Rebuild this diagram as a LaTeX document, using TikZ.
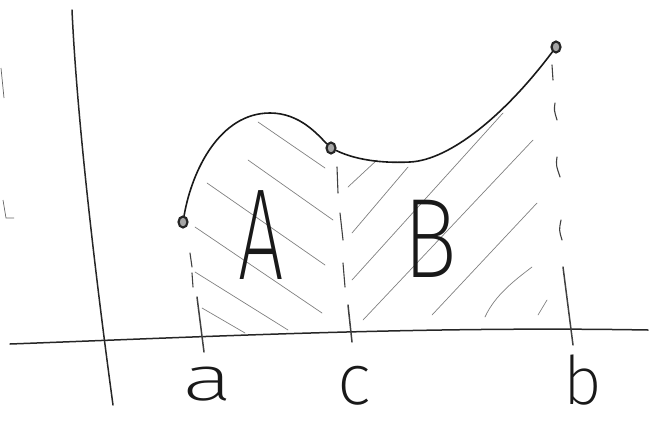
\documentclass[tikz,border=0pt]{standalone}
\usepackage{graphicx}
\usepackage{fontspec}
\usetikzlibrary{shapes.geometric}
\IfFontExistsTF{Fira Sans ExtraLight}{\newfontfamily\hand{Fira Sans ExtraLight}}{%
  \IfFontExistsTF{Fira Sans Light}{\newfontfamily\hand{Fira Sans Light}}{%
    \IfFontExistsTF{Poppins Light}{\newfontfamily\hand{Poppins Light}}{%
      \newfontfamily\hand{Fira Sans}}}}
\begin{document}
\begin{tikzpicture}[x=1pt,y=-1pt,
  axis/.style={line width=1.5pt, black!85, line cap=round},
  curveline/.style={line width=1.6pt, black!90, line cap=round},
  hatch/.style={line width=0.7pt, black!50, line cap=round},
  guide/.style={line width=1.1pt, black!75, line cap=round},
  tickline/.style={line width=1.5pt, black!75, line cap=round},
  dot/.style={ellipse, draw=black!85, line width=2.2pt, fill=black!35, inner sep=0pt, minimum width=9pt, minimum height=11pt},
  lbl/.style={inner sep=0pt, black!90}]
\useasboundingbox (0,0) rectangle (653,424);
% axes
\coordinate (ytop) at (72,10);
\coordinate (ybot) at (113,405);
\coordinate (xl) at (10,344);
\coordinate (xr) at (648,330);
\draw[axis] (ytop) .. controls (77,120) and (96,280) .. (ybot);
\draw[axis] (xl) .. controls (200,337) and (420,326) .. (xr);
% stray marks at the left edge
\coordinate (s1) at (1,68); \coordinate (s2) at (4,98);
\coordinate (s3) at (3,200); \coordinate (s4) at (6,218);
\draw[line width=0.7pt, black!60] (s1) -- (s2);
\draw[line width=0.7pt, black!60] (s3) -- (s4) -- (14,218);
% hatching A
\draw[hatch] (258,122) -- (325,168);
\draw[hatch] (248,160) -- (333,220);
\draw[hatch] (207,183) -- (325,265);
\draw[hatch] (195,227) -- (322,313);
\draw[hatch] (195,272) -- (288,330);
\draw[hatch] (202,308) -- (245,333);
% hatching B
\draw[hatch] (348,187) -- (377,160);
\draw[hatch] (352,233) -- (408,167);
\draw[hatch] (352,280) -- (503,113);
\draw[hatch] (363,320) -- (533,140);
\draw[hatch] (432,315) -- (537,203);
\draw[hatch] (485,317) .. controls (495,295) and (515,280) .. (532,267);
\draw[hatch] (538,315) -- (547,300);
% points
\node[dot] (pa) at (183,222) {};
\node[dot] (pc) at (331,148) {};
\node[dot] (pb) at (556,47) {};
% curve
\draw[curveline] (pa) .. controls (192,170) and (220,113) .. (270,113)
  .. controls (300,113) and (318,135) .. (pc);
\draw[curveline] (pc) .. controls (360,162) and (390,163) .. (410,162)
  .. controls (450,160) and (505,115) .. (pb);
% guide at a
\coordinate (a1) at (190,253); \coordinate (a2) at (192,267);
\coordinate (a3) at (192,273); \coordinate (a4) at (193,287);
\coordinate (at1) at (197,297); \coordinate (at2) at (204,352);
\draw[guide] (a1) -- (a2);
\draw[guide] (a3) -- (a4);
\draw[tickline] (at1) -- (at2);
% guide at c
\coordinate (c1) at (337,167); \coordinate (c2) at (338,193);
\coordinate (c3) at (340,213); \coordinate (c4) at (343,240);
\coordinate (c5) at (343,263); \coordinate (c6) at (345,287);
\coordinate (ct1) at (348,305); \coordinate (ct2) at (352,342);
\draw[guide] (c1) -- (c2);
\draw[guide] (c3) -- (c4);
\draw[guide] (c5) -- (c6);
\draw[tickline] (ct1) -- (ct2);
% guide at b
\coordinate (b1) at (552,65); \coordinate (b2) at (553,80);
\coordinate (b3) at (555,103); \coordinate (b4) at (557,120);
\coordinate (b5) at (557,157); \coordinate (b6) at (560,177);
\coordinate (b7) at (561,220); \coordinate (b8) at (562,240);
\coordinate (bt1) at (563,267); \coordinate (bt2) at (573,345);
\draw[guide] (b1) -- (b2);
\draw[guide] (b3) .. controls (554,110) .. (b4);
\draw[guide] (b5) .. controls (556,165) .. (b6);
\draw[guide] (b7) .. controls (559,230) .. (b8);
\draw[tickline] (bt1) -- (bt2);
% labels
\node[lbl, font=\hand\fontsize{130}{130}\selectfont] (lA) at (261,235) {\scalebox{0.62}[1]{A}};
\node[lbl, font=\hand\fontsize{113}{113}\selectfont] (lB) at (430,239) {\scalebox{0.8}[1]{B}};
\node[lbl, font=\hand\fontsize{63}{63}\selectfont] (la) at (208,384) {\scalebox{1.5}[1]{a}};
\node[lbl, font=\hand\fontsize{72}{72}\selectfont] (lc) at (354,386) {c};
\node[lbl, font=\hand\fontsize{67}{67}\selectfont] (lb) at (583,380) {b};
\end{tikzpicture}
\end{document}
